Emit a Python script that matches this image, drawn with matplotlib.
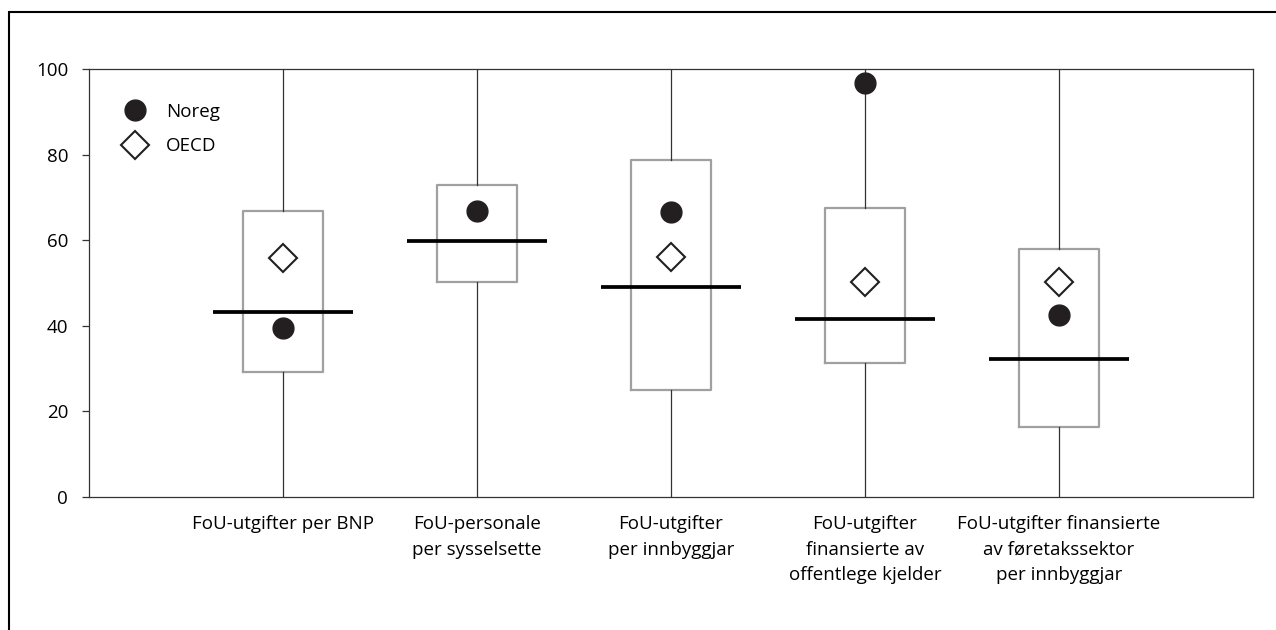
import matplotlib
matplotlib.use('Agg')
import matplotlib.pyplot as plt
from matplotlib.lines import Line2D
from matplotlib.patches import Rectangle

plt.rcParams['font.family'] = ['Open Sans', 'DejaVu Sans']

# data
categories = ['FoU-utgifter per BNP',
              'FoU-personale\nper sysselsette',
              'FoU-utgifter\nper innbyggjar',
              'FoU-utgifter\nfinansierte av\noffentlege kjelder',
              'FoU-utgifter finansierte\nav føretakssektor\nper innbyggjar']
q1 = [29.3, 50.2, 25.0, 31.3, 16.3]
q3 = [66.8, 73.0, 78.8, 67.5, 58.0]
median = [43.2, 59.7, 49.0, 41.5, 32.3]
low = [0, 0, 0, 0, 0]
high = [100, 100, 100, 100, 100]
noreg = [39.6, 66.8, 66.7, 96.7, 42.5]
oecd = [55.9, None, 56.0, 50.3, 50.3]

black = '#231f20'
grey = '#a0a0a0'
fs = 13.5

fig = plt.figure(figsize=(12.76, 6.30), dpi=100)
ax = fig.add_axes([89/1276, 1-497/630, 1164/1276, 428/630])

pos = list(range(1, len(categories)+1))
stats = []
for i in range(len(categories)):
    stats.append(dict(med=median[i], q1=q1[i], q3=q3[i], whislo=low[i], whishi=high[i], fliers=[]))

ax.bxp(stats, positions=pos, widths=0.41, showcaps=False, showfliers=False,
       boxprops=dict(color=grey, linewidth=1.6),
       whiskerprops=dict(color='#333333', linewidth=0.9),
       medianprops=dict(linewidth=0))

# median lines stick out of the boxes
for p, m in zip(pos, median):
    ax.hlines(m, p-0.36, p+0.36, color='black', linewidth=2.7, zorder=3)

ox = [p for p, v in zip(pos, oecd) if v is not None]
oy = [v for v in oecd if v is not None]
ax.plot(ox, oy, linestyle='none', marker='D', markersize=14, markerfacecolor='white',
        markeredgecolor=black, markeredgewidth=1.5, zorder=4)
ax.plot(pos, noreg, linestyle='none', marker='o', markersize=15, color=black, zorder=4)

ax.set_xlim(0, 6)
ax.set_ylim(0, 100)
ax.set_yticks([0, 20, 40, 60, 80, 100])
ax.set_xticks(pos)
ax.set_xticklabels(categories, fontsize=fs, linespacing=1.55)
ax.tick_params(axis='x', length=0, pad=13)
ax.tick_params(axis='y', length=5, width=0.9, color='#333333', labelsize=fs, pad=10)
for s in ax.spines.values():
    s.set_color('#333333')
    s.set_linewidth(0.9)

handles = [Line2D([], [], linestyle='none', marker='o', markersize=15, color=black),
           Line2D([], [], linestyle='none', marker='D', markersize=14, markerfacecolor='white',
                  markeredgecolor=black, markeredgewidth=1.5)]
ax.legend(handles, ['Noreg', 'OECD'], loc='upper left', bbox_to_anchor=(0.009, 0.961),
          frameon=False, fontsize=fs, handletextpad=0.65, labelspacing=0.9)

# frame round the whole figure
fig.patches.append(Rectangle((9/1276, -0.1), 1.2, 1-12/630+0.1, transform=fig.transFigure,
                             fill=False, edgecolor='black', linewidth=1.5))

fig.savefig('out.png', dpi=100)
